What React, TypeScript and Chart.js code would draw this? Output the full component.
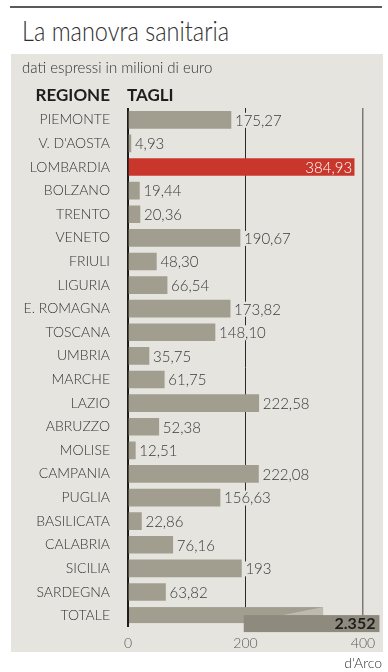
import React, { useEffect, useRef } from "react";
import { Chart, registerables } from "chart.js";

Chart.register(...registerables);

const categories = [
  "PIEMONTE", "V. D'AOSTA", "LOMBARDIA", "BOLZANO", "TRENTO", "VENETO", "FRIULI",
  "LIGURIA", "E. ROMAGNA", "TOSCANA", "UMBRIA", "MARCHE", "LAZIO", "ABRUZZO",
  "MOLISE", "CAMPANIA", "PUGLIA", "BASILICATA", "CALABRIA", "SICILIA", "SARDEGNA", "TOTALE",
];
const tagli = [
  175.27, 4.93, 384.93, 19.44, 20.36, 190.67, 48.3, 66.54, 173.82, 148.1, 35.75,
  61.75, 222.58, 52.38, 12.51, 222.08, 156.63, 22.86, 76.16, 193, 63.82, 2352,
];
const highlighted = "LOMBARDIA";
const totalLabel = "TOTALE";
const xTicks = [0, 200, 400];

const FONT = "Lato, 'Open Sans', sans-serif";
const GREY = "#a19e90";
const RED = "#c9372c";
const PANEL = "#e6e4df";

function fmtVal(v: number): string {
  if (Number.isInteger(v)) return String(v);
  return v.toFixed(2).replace(".", ",");
}
function fmtTotal(v: number): string {
  return String(Math.round(v)).replace(/\B(?=(\d{3})+(?!\d))/g, ".");
}

export default function App() {
  const ref = useRef<HTMLCanvasElement | null>(null);

  useEffect(() => {
    if (!ref.current) return;
    const totalIdx = categories.indexOf(totalLabel);
    const barData = tagli.map((v, i) => (i === totalIdx ? null : v));

    const labelsPlugin = {
      id: "valueLabels",
      afterDatasetsDraw(chart: any) {
        const ctx = chart.ctx;
        const meta = chart.getDatasetMeta(0);
        ctx.save();
        ctx.textBaseline = "middle";
        ctx.font = `300 15px ${FONT}`;
        meta.data.forEach((bar: any, i: number) => {
          const v = barData[i];
          if (v == null) return;
          const txt = fmtVal(v);
          if (categories[i] === highlighted) {
            ctx.fillStyle = "#ffffff";
            ctx.textAlign = "right";
            ctx.fillText(txt, bar.x - 2, bar.y + 1);
          } else {
            const w = ctx.measureText(txt).width;
            ctx.fillStyle = PANEL;
            ctx.fillRect(bar.x + 2, bar.y - 7, w + 4, 15);
            ctx.fillStyle = "#3a3a3a";
            ctx.textAlign = "left";
            ctx.fillText(txt, bar.x + 4, bar.y + 1);
          }
        });

        // broken TOTALE bar
        const xs = chart.scales.x;
        const ys = chart.scales.y;
        const max = xs.max;
        const cy = ys.getPixelForValue(totalIdx);
        const x0 = xs.getPixelForValue(0);
        const xTopEnd = xs.getPixelForValue(max * 0.83);
        const xLowStart = xs.getPixelForValue(max * 0.4925);
        const xLowEnd = xs.getPixelForValue(max * 1.07);
        ctx.fillStyle = GREY;
        ctx.fillRect(x0 + 1, cy - 8.5, xTopEnd - x0 - 1, 16);
        ctx.fillStyle = "#bdbab0";
        ctx.beginPath();
        ctx.moveTo(xs.getPixelForValue(max * 0.66), cy - 0.5);
        ctx.lineTo(xTopEnd, cy - 8.5);
        ctx.lineTo(xTopEnd, cy - 0.5);
        ctx.closePath();
        ctx.fill();
        ctx.fillStyle = "#8e8b7e";
        ctx.fillRect(xLowStart, cy - 0.5, xLowEnd - xLowStart, 17);
        ctx.fillStyle = "#1e1e1e";
        ctx.font = `700 16px ${FONT}`;
        ctx.textAlign = "right";
        ctx.fillText(fmtTotal(tagli[totalIdx]), xLowEnd - 4, cy + 8.5);
        ctx.restore();
      },
    };

    const chart = new Chart(ref.current, {
      type: "bar",
      data: {
        labels: categories,
        datasets: [
          {
            data: barData as any,
            backgroundColor: categories.map((c) => (c === highlighted ? RED : GREY)),
            barThickness: 17,
            borderWidth: 0,
          },
        ],
      },
      options: {
        indexAxis: "y",
        responsive: false,
        maintainAspectRatio: false,
        animation: false,
        layout: { padding: { left: 0, right: 25, top: 108, bottom: 20.6 } },
        plugins: {
          legend: { display: false },
          tooltip: { enabled: false },
          title: { display: false },
        },
        scales: {
          x: {
            min: 0,
            max: 400,
            afterBuildTicks: (scale: any) => {
              scale.ticks = xTicks.map((v) => ({ value: v }));
            },
            afterFit: (scale: any) => {
              scale.height = 24;
            },
            border: { display: false },
            grid: {
              drawTicks: false,
              color: (c: any) =>
                c.tick && c.tick.value === 0 ? "#1c1c1c" : c.tick && c.tick.value === 400 ? "#7a7a7a" : "#2a2a2a",
              lineWidth: (c: any) => (c.tick && c.tick.value === 0 ? 2 : c.tick && c.tick.value === 400 ? 1.5 : 1),
            },
            ticks: {
              color: "#5a5a5a",
              font: { family: FONT, size: 14, weight: "300" as any },
              padding: 8,
              callback: (v: any) => String(v),
            },
          },
          y: {
            afterFit: (scale: any) => {
              scale.width = 128;
            },
            border: { display: false },
            grid: { display: false, drawTicks: false },
            ticks: {
              color: "#333333",
              font: { family: FONT, size: 14, weight: "300" as any },
              padding: 18,
            },
          },
        },
      },
      plugins: [labelsPlugin],
    });
    return () => chart.destroy();
  }, []);

  const abs = (s: React.CSSProperties): React.CSSProperties => ({ position: "absolute", margin: 0, whiteSpace: "nowrap", ...s });

  return (
    <div style={abs({ left: 0, top: 0, width: 388, height: 672, overflow: "hidden", background: "#ffffff", fontFamily: FONT })}>
      <div style={abs({ left: 10, top: 6, width: 372, height: 2, background: "#5a5a5a" })} />
      <div
        style={abs({
          left: 22, top: 17, fontSize: 27, lineHeight: "27px", fontWeight: 300, color: "#2e2e2e",
          transform: "scaleX(0.87)", transformOrigin: "left center",
        })}
      >
        La manovra sanitaria
      </div>
      <div style={abs({ left: 11, top: 54, width: 372, height: 598, background: PANEL })} />
      <canvas ref={ref} width={388} height={672} style={abs({ left: 0, top: 0, width: 388, height: 672 })} />
      <div style={abs({ left: 22, top: 60, fontSize: 15, lineHeight: "15px", fontWeight: 300, color: "#333" })}>
        dati espressi in milioni di euro
      </div>
      <div style={abs({ right: 388 - 110, top: 85.5, fontSize: 17, lineHeight: "17px", fontWeight: 700, color: "#1e1e1e" })}>
        REGIONE
      </div>
      <div style={abs({ left: 127, top: 85.5, fontSize: 17, lineHeight: "17px", fontWeight: 700, color: "#1e1e1e" })}>
        TAGLI
      </div>
      <div style={abs({ right: 6, top: 655.6, fontSize: 14, lineHeight: "14px", fontWeight: 300, color: "#333" })}>
        d'Arco
      </div>
    </div>
  );
}
